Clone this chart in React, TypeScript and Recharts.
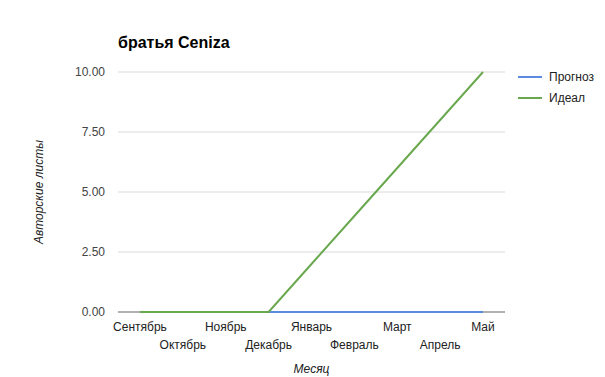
import React from "react";
import {
  LineChart,
  Line,
  XAxis,
  YAxis,
  CartesianGrid,
  ReferenceLine,
  Label,
} from "recharts";

const months = [
  "Сентябрь",
  "Октябрь",
  "Ноябрь",
  "Декабрь",
  "Январь",
  "Февраль",
  "Март",
  "Апрель",
  "Май",
];
const forecast = [0, 0, 0, 0, 0, 0, 0, 0, 0];
const ideal = [0, 0, 0, 0, 2, 4, 6, 8, 10];
const yTicks = [0, 2.5, 5, 7.5, 10];

const seriesInfo = [
  { key: "forecast", name: "Прогноз", color: "#5a8be0" },
  { key: "ideal", name: "Идеал", color: "#6aa84f" },
];

const data = months.map((m, i) => ({ month: m, forecast: forecast[i], ideal: ideal[i] }));

const FONT = "Arial, 'Liberation Sans', sans-serif";

const MonthTick = (props: any) => {
  const { x, y, payload, index } = props;
  const dy = index % 2 === 0 ? 11 : 29;
  return (
    <text x={x} y={y + dy} textAnchor="middle" fontSize={12} fill="#222" fontFamily={FONT}>
      {payload.value}
    </text>
  );
};

export default function App() {
  return (
    <div style={{ position: "absolute", left: 0, top: 0, width: 605, height: 377, background: "#fff" }}>
      <div
        style={{
          position: "absolute",
          left: 118,
          top: 34,
          fontFamily: FONT,
          fontWeight: "bold",
          fontSize: 16,
          color: "#000",
        }}
      >
        братья Ceniza
      </div>
      {/* legend sits outside the plot so recharts doesn't shrink the grid */}
      <div style={{ position: "absolute", left: 518, top: 66, fontFamily: FONT, fontSize: 12, color: "#222" }}>
        {seriesInfo.map((s) => (
          <div key={s.key} style={{ display: "flex", alignItems: "center", height: 21 }}>
            <span style={{ display: "inline-block", width: 24, height: 2, background: s.color, marginRight: 7 }} />
            {s.name}
          </div>
        ))}
      </div>
      <LineChart
        width={605}
        height={377}
        data={data}
        margin={{ top: 72, right: 100, bottom: 0, left: 0 }}
      >
        <CartesianGrid vertical={false} stroke="#d9d9d9" />
        <XAxis
          dataKey="month"
          height={65}
          interval={0}
          padding={{ left: 22, right: 22 }}
          tickLine={false}
          axisLine={false}
          tick={<MonthTick />}
        >
          <Label
            value="Месяц"
            position="insideBottom"
            offset={4}
            style={{ fontFamily: FONT, fontSize: 12, fontStyle: "italic", fill: "#222" }}
          />
        </XAxis>
        <YAxis
          width={118}
          domain={[0, 10]}
          ticks={yTicks}
          tickFormatter={(v: number) => v.toFixed(2)}
          axisLine={false}
          tickLine={false}
          tickSize={0}
          tickMargin={13}
          tick={{ fontSize: 12, fill: "#444", fontFamily: FONT }}
        >
          <Label
            value="Авторские листы"
            angle={-90}
            position="insideLeft"
            offset={39}
            style={{ textAnchor: "middle", fontFamily: FONT, fontSize: 12, fontStyle: "italic", fill: "#222" }}
          />
        </YAxis>
        <ReferenceLine y={0} stroke="#777" strokeWidth={1} />
        {seriesInfo.map((s) => (
          <Line
            key={s.key}
            dataKey={s.key}
            name={s.name}
            stroke={s.color}
            strokeWidth={2}
            dot={false}
            isAnimationActive={false}
          />
        ))}
      </LineChart>
    </div>
  );
}
